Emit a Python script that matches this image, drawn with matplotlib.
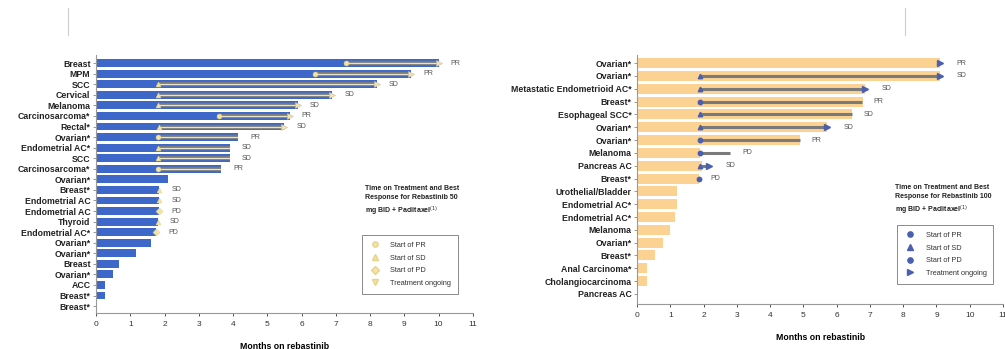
import matplotlib
matplotlib.use("Agg")
import matplotlib.pyplot as plt
from matplotlib.lines import Line2D

# Rebastinib 50 mg BID + paclitaxel (left panel)
left_labels = ["Breast", "MPM", "SCC", "Cervical", "Melanoma", "Carcinosarcoma*",
               "Rectal*", "Ovarian*", "Endometrial AC*", "SCC", "Carcinosarcoma*",
               "Ovarian*", "Breast*", "Endometrial AC", "Endometrial AC", "Thyroid",
               "Endometrial AC*", "Ovarian*", "Ovarian*", "Breast", "Ovarian*", "ACC",
               "Breast*", "Breast*"]
left_months = [10.0, 9.2, 8.2, 6.9, 5.9, 5.65, 5.5, 4.15, 3.9, 3.9, 3.65, 2.1,
               1.85, 1.85, 1.85, 1.8, 1.75, 1.6, 1.18, 0.68, 0.5, 0.25, 0.25, 0.03]
left_resp_start = [7.3, 6.4, 1.8, 1.8, 1.8, 3.6, 1.85, 1.8, 1.8, 1.8, 1.8, None,
                   1.85, 1.85, 1.85, 1.8, 1.75]
left_response = ["PR", "PR", "SD", "SD", "SD", "PR", "SD", "PR", "SD", "SD", "PR", "",
                 "SD", "SD", "PD", "SD", "PD"]
left_ongoing = [True, True, True, True, True, True, True]

# Rebastinib 100 mg BID + paclitaxel (right panel)
right_labels = ["Ovarian*", "Ovarian*", "Metastatic Endometrioid AC*", "Breast*",
                "Esophageal SCC*", "Ovarian*", "Ovarian*", "Melanoma", "Pancreas AC",
                "Breast*", "Urothelial/Bladder", "Endometrial AC*", "Endometrial AC*",
                "Melanoma", "Ovarian*", "Breast*", "Anal Carcinoma*",
                "Cholangiocarcinoma", "Pancreas AC"]
right_months = [9.1, 9.1, 6.85, 6.8, 6.45, 5.7, 4.9, 1.9, 1.95, 1.85, 1.2, 1.2,
                1.15, 1.0, 0.78, 0.53, 0.3, 0.3, 0.0]
right_resp_start = [None, 1.9, 1.9, 1.9, 1.9, 1.9, 1.9, 1.9, 1.9, 1.85]
right_resp_end = [9.1, 9.1, 6.85, 6.75, 6.45, 5.7, 4.9, 2.8, 2.15, 1.85]
right_response = ["PR", "SD", "SD", "PR", "SD", "SD", "PR", "PD", "SD", "PD"]
right_ongoing = [True, True, True, False, False, True, False, False, True, False]

legend_labels = ["Start of PR", "Start of SD", "Start of PD", "Treatment ongoing"]
start_marker = {"PR": "o", "SD": "^", "PD": "D"}

BLUE = "#3d68c9"
ORANGE = "#fbd291"
PALE = "#f3e4a6"
NAVY = "#4a5fae"
GRAY_LINE = "#7a7a7a"

plt.rcParams["font.family"] = ["Liberation Sans", "DejaVu Sans"]

fig = plt.figure(figsize=(10.05, 3.49), dpi=100)
ax_l = fig.add_axes([0.0955, 0.103, 0.375, 0.739])
ax_r = fig.add_axes([0.634, 0.129, 0.364, 0.713])


def style_axis(ax, labels, ylim):
    ax.set_yticks(range(len(labels)))
    ax.set_yticklabels(labels, fontsize=6.3, fontweight="bold", color="#222222")
    ax.set_ylim(*ylim)
    ax.set_xlim(0, 11)
    ax.set_xticks(range(12))
    ax.tick_params(axis="x", labelsize=6, colors="#333333", length=2, width=0.6)
    ax.tick_params(axis="y", length=2, width=0.6, colors="#888888", pad=2,
                   labelcolor="#222222")
    for side in ("top", "right"):
        ax.spines[side].set_visible(False)
    for side in ("left", "bottom"):
        ax.spines[side].set_color("#999999")
        ax.spines[side].set_linewidth(0.8)
    ax.set_xlabel("Months on rebastinib", fontsize=6.3, fontweight="bold", labelpad=10)


def add_legend(ax, handles, anchor):
    leg = ax.legend(handles, legend_labels, loc="upper left", bbox_to_anchor=anchor,
                    fontsize=5.3, frameon=True, fancybox=False, edgecolor="#555555",
                    borderpad=0.9, labelspacing=0.75, handletextpad=1.2,
                    handlelength=1.8, borderaxespad=0)
    leg.get_frame().set_linewidth(0.6)
    for t in leg.get_texts():
        t.set_color("#333333")


# ---- left panel ----
rows_l = list(range(len(left_labels)))
ax_l.barh(rows_l, left_months, height=0.75, color=BLUE, zorder=1)
for i, start in enumerate(left_resp_start):
    if start is None:
        continue
    end = left_months[i]
    resp = left_response[i]
    if end - start > 0.1:
        ax_l.plot([start, end], [i, i], color=GRAY_LINE, lw=3.2,
                  solid_capstyle="butt", zorder=2)
        ax_l.plot([start, end], [i, i], color="#e9e4cf", lw=0.9,
                  solid_capstyle="butt", zorder=3)
    ax_l.plot(start, i, marker=start_marker[resp], ms=3.5, color=PALE,
              mec="#e6d38a", mew=0.4, zorder=4)
    ongoing = i < len(left_ongoing) and left_ongoing[i]
    if ongoing:
        ax_l.plot(end, i, marker=">", ms=4, color=PALE, mec="#bbbbbb",
                  mew=0.4, zorder=4)
    ax_l.text(end + 0.35, i, resp, fontsize=5, color="#555555", va="center")
style_axis(ax_l, left_labels, (23.66, -0.76))

ax_l.text(7.85, 13.1, "Time on Treatment and Best\nResponse for Rebastinib 50\n"
          "mg BID + Paclitaxel$^{(1)}$", fontsize=5, fontweight="bold",
          color="#222222", va="center", linespacing=1.4)
handles_l = [Line2D([], [], ls="", marker=m, color=PALE, mec="#e6d38a", ms=3.8)
             for m in ("o", "^", "D", "v")]
add_legend(ax_l, handles_l, (0.705, 0.302))

# ---- right panel ----
rows_r = list(range(len(right_labels)))
ax_r.barh(rows_r, right_months, height=0.78, color=ORANGE, zorder=1)
for i, end in enumerate(right_resp_end):
    start = right_resp_start[i]
    resp = right_response[i]
    if start is not None:
        if end - start > 0.1:
            ax_r.plot([start, end], [i, i], color=GRAY_LINE, lw=2.2,
                      solid_capstyle="butt", zorder=2)
        ax_r.plot(start, i, marker=start_marker[resp] if resp != "PD" else "o",
                  ms=3.2, color=NAVY, zorder=4)
    if right_ongoing[i]:
        ax_r.plot(end, i, marker=">", ms=5, color=NAVY, zorder=4)
        off = 0.5
    else:
        off = 0.35
    ax_r.text(end + off, i, resp, fontsize=5, color="#555555", va="center")
style_axis(ax_r, right_labels, (18.78, -0.62))

ax_r.text(7.75, 10.7, "Time on Treatment and Best\nResponse for Rebastinib 100\n"
          "mg BID + Paclitaxel$^{(1)}$", fontsize=5, fontweight="bold",
          color="#222222", va="center", linespacing=1.4)
handles_r = [Line2D([], [], ls="", marker=m, color=NAVY, ms=3.8)
             for m in ("o", "^", "o", ">")]
add_legend(ax_r, handles_r, (0.71, 0.317))

# thin separator marks above each panel
for x in (68 / 1005, 905 / 1005):
    fig.add_artist(Line2D([x, x], [1 - 8 / 349, 1 - 35 / 349],
                          color="#cccccc", lw=0.8))

fig.savefig("out.png", dpi=100)
